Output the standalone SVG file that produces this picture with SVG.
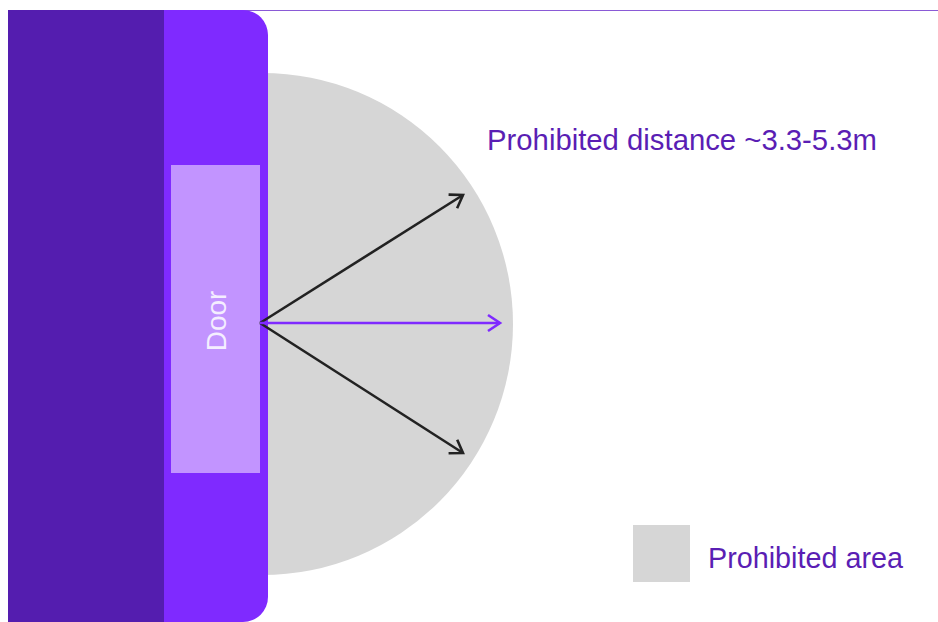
<svg xmlns="http://www.w3.org/2000/svg" width="938" height="622" viewBox="0 0 938 622">
<style>
.lbl{font-family:"Liberation Sans",Arial,sans-serif;font-size:29px;fill:#5A1EB4}
.arr{stroke:#222;stroke-width:2.6;fill:none}
</style>
<defs>
<marker id="hb" viewBox="0 0 20 20" refX="16" refY="10" markerWidth="20" markerHeight="20" markerUnits="userSpaceOnUse" orient="auto">
<path d="M4,2 L16,10 L4,18" fill="none" stroke="#222" stroke-width="2.6"/>
</marker>
<marker id="hp" viewBox="0 0 20 20" refX="16" refY="10" markerWidth="20" markerHeight="20" markerUnits="userSpaceOnUse" orient="auto">
<path d="M4,2 L16,10 L4,18" fill="none" stroke="#7F2AFF" stroke-width="2.6"/>
</marker>
</defs>
<rect width="938" height="622" fill="#fff"/>
<line x1="8" y1="10.5" x2="938" y2="10.5" stroke="#8A5AD6" stroke-width="1"/>
<g id="area">
<circle cx="262" cy="324" r="251" fill="#D6D6D6"/>
</g>
<g id="wall">
<rect x="8" y="10" width="160" height="612" fill="#541DAF"/>
<path d="M164,10 H243 A25,25 0 0 1 268,35 V597 A25,25 0 0 1 243,622 H164 Z" fill="#7F2AFF"/>
</g>
<g id="door">
<rect x="171" y="165" width="89" height="308" fill="#C294FF"/>
<text x="0" y="0" transform="translate(226,321) rotate(-90)" text-anchor="middle" font-family="'Liberation Sans',Arial,sans-serif" font-size="28" fill="#F4EEFF">Door</text>
</g>
<g id="connectors">
<line class="arr" x1="260" y1="323" x2="463" y2="195" marker-end="url(#hb)"/>
<line class="arr" x1="260" y1="323" x2="463" y2="453" marker-end="url(#hb)"/>
<line x1="260" y1="323" x2="500" y2="323" stroke="#7F2AFF" stroke-width="2.6" marker-end="url(#hp)"/>
</g>
<g id="distance-label">
<text class="lbl" x="487" y="150" textLength="390" lengthAdjust="spacingAndGlyphs">Prohibited distance ~3.3-5.3m</text>
</g>
<g id="legend">
<rect x="633" y="525" width="57" height="57" fill="#D6D6D6"/>
<text class="lbl" x="708" y="568" textLength="195" lengthAdjust="spacingAndGlyphs">Prohibited area</text>
</g>
</svg>
